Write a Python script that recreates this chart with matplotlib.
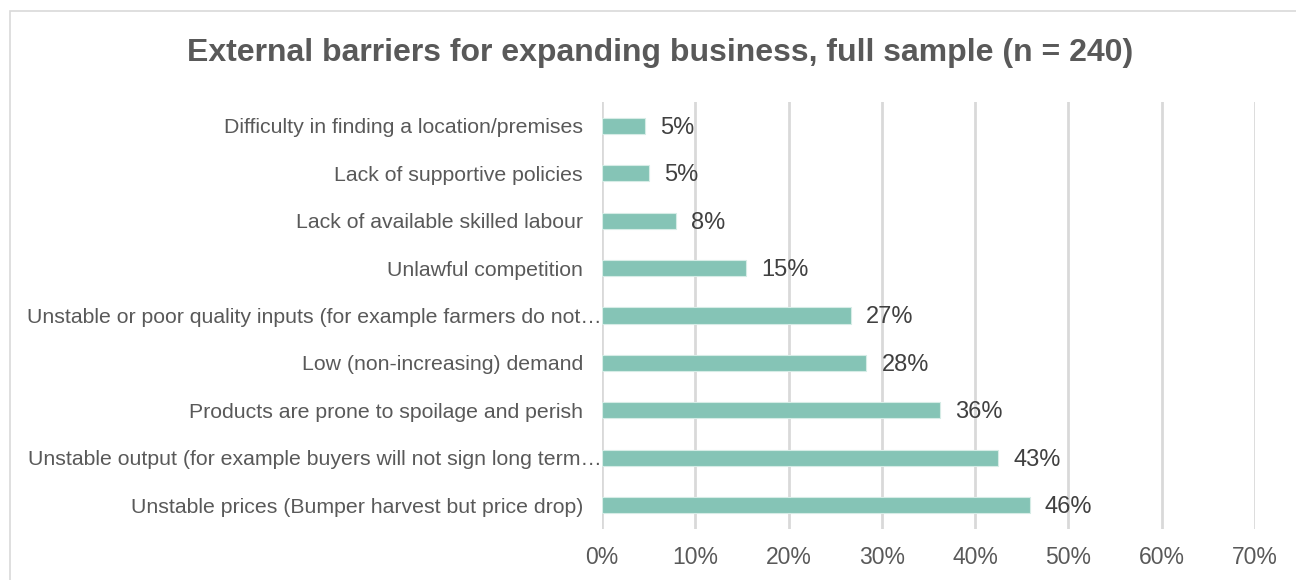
import matplotlib.pyplot as plt
import matplotlib.transforms as mtransforms
from matplotlib.patches import Rectangle
from matplotlib.ticker import FuncFormatter, MultipleLocator

plt.rcParams['font.family'] = ['Liberation Sans', 'DejaVu Sans']

# Respondents naming each barrier (n = 240), listed bottom to top
barriers = [
    'Unstable prices (Bumper harvest but price drop)',
    'Unstable output (for example buyers will not sign long term\u2026',
    'Products are prone to spoilage and perish',
    'Low (non-increasing) demand',
    'Unstable or poor quality inputs (for example farmers do not\u2026',
    'Unlawful competition',
    'Lack of available skilled labour',
    'Lack of supportive policies',
    'Difficulty in finding a location/premises',
]
counts = [110, 102, 87, 68, 64, 37, 19, 12, 11]
n_total = 240
shares = [c / n_total * 100 for c in counts]

fig = plt.figure(figsize=(12.96, 5.8), dpi=100)

# thin grey frame around the chart area
fig.patches.append(Rectangle((10 / 1296, -0.05), 1.2, 1 - 11 / 580 + 0.05,
                             transform=fig.transFigure, fill=False,
                             edgecolor='#d9d9d9', linewidth=1.2))

ax = fig.add_axes([602 / 1296, 51 / 580, 653 / 1296, 427 / 580])

ypos = range(len(barriers))
bars = ax.barh(ypos, shares, height=0.34, color='#85c4b6',
               edgecolor='#d6ece6', linewidth=0.8, zorder=3)

# percentage labels, rounded half up like the spreadsheet does
for bar, v in zip(bars, shares):
    ax.text(bar.get_width() + 1.65, bar.get_y() + bar.get_height() / 2 - 0.04,
            f'{int(v + 0.5)}%', va='center', ha='left',
            fontsize=17, color='#404040')

# category names drawn by hand: truncated ones run right up to the axis
label_trans = mtransforms.blended_transform_factory(ax.transAxes, ax.transData)
for y, name in zip(ypos, barriers):
    shift = 0 if name.endswith('\u2026') else -19 / 100
    t = label_trans + mtransforms.ScaledTranslation(shift, 0, fig.dpi_scale_trans)
    ax.text(0, y, name, transform=t, ha='right', va='center_baseline',
            fontsize=15.3, color='#595959', clip_on=False)

ax.set_xlim(0, 70)
ax.set_ylim(-0.5, len(barriers) - 0.5)
ax.xaxis.set_major_locator(MultipleLocator(10))
ax.xaxis.set_major_formatter(FuncFormatter(lambda x, _: f'{x:.0f}%'))
ax.set_yticks([])

ax.tick_params(axis='x', length=0, pad=12, labelsize=16.5, labelcolor='#595959')

ax.grid(axis='x', color='#d9d9d9', linewidth=2, zorder=0)
for s in ax.spines.values():
    s.set_visible(False)

fig.text(0.509, 1 - 53 / 580,
         'External barriers for expanding business, full sample (n = 240)',
         ha='center', va='center', fontsize=23, fontweight='bold',
         color='#595959')

fig.savefig('out.png', dpi=100)
